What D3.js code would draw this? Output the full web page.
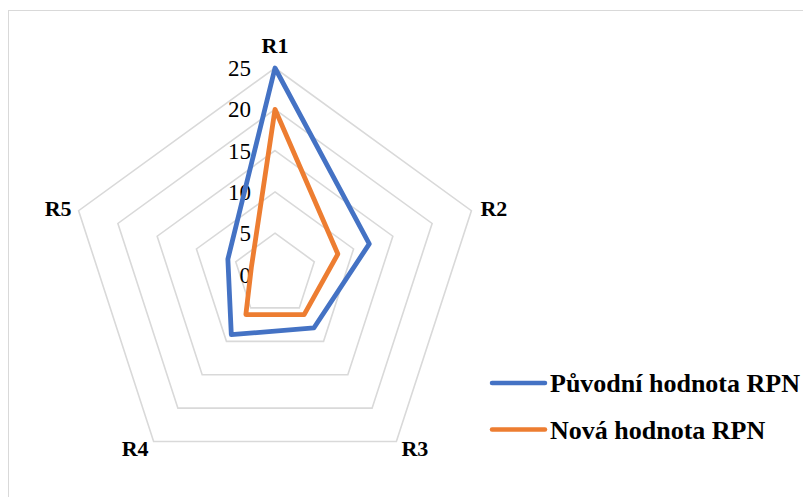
<!DOCTYPE html>
<html>
<head>
<meta charset="utf-8">
<script src="https://cdn.jsdelivr.net/npm/d3@7"></script>
<style>
  body { margin: 0; background: #fff; }
  svg { display: block; font-family: "Liberation Serif", "Times New Roman", serif; }
</style>
</head>
<body>
<svg id="chart" width="803" height="497"></svg>
<script>
// data
const categories = ['R1', 'R2', 'R3', 'R4', 'R5'];
const puvodni = [25, 12, 8, 9, 6];
const nova = [20, 8, 6, 6, 3];
const ringValues = [5, 10, 15, 20, 25];
const tickLabels = [0, 5, 10, 15, 20, 25];
const seriesNames = ['Původní hodnota RPN', 'Nová hodnota RPN'];
const seriesColors = ['#4472C4', '#ED7D31'];

const svg = d3.select('#chart');
const cx = 275, cy = 274.5;

// frame round the chart area
svg.append('rect')
  .attr('x', 8.5).attr('y', 10.5)
  .attr('width', 820).attr('height', 520)
  .attr('fill', 'none')
  .attr('stroke', '#d9d9d9')
  .attr('stroke-width', 1);

const r = d3.scaleLinear().domain([0, 25]).range([0, 206.5]);
const angle = d3.scaleLinear().domain([0, categories.length]).range([0, 2 * Math.PI]);

const g = svg.append('g').attr('transform', `translate(${cx},${cy})`);

// grid rings
const ringLine = d3.lineRadial()
  .angle((d, i) => angle(i))
  .radius(d => r(d))
  .curve(d3.curveLinearClosed);

g.selectAll('.ring')
  .data(ringValues)
  .join('path')
  .attr('class', 'ring')
  .attr('d', v => ringLine(categories.map(() => v)))
  .attr('fill', 'none')
  .attr('stroke', '#d9d9d9')
  .attr('stroke-width', 1.6);

// value ticks along R1 axis
g.selectAll('.tick')
  .data(tickLabels)
  .join('text')
  .attr('class', 'tick')
  .attr('x', -24)
  .attr('y', d => -r(d))
  .attr('dy', '0.35em')
  .attr('text-anchor', 'end')
  .attr('font-size', 23)
  .attr('fill', '#000')
  .text(d => d);

// category labels
const labelPos = i => {
  const a = angle(i);
  const rr = r(25);
  return [Math.sin(a) * rr, -Math.cos(a) * rr];
};
const labelCfg = [
  {dx: 0, dy: -23, anchor: 'middle'},
  {dx: 9, dy: -2, anchor: 'start'},
  {dx: 5, dy: 7, anchor: 'start'},
  {dx: -5, dy: 7, anchor: 'end'},
  {dx: -7, dy: -2, anchor: 'end'}
];
g.selectAll('.cat')
  .data(categories)
  .join('text')
  .attr('class', 'cat')
  .attr('x', (d, i) => labelPos(i)[0] + labelCfg[i].dx)
  .attr('y', (d, i) => labelPos(i)[1] + labelCfg[i].dy)
  .attr('dy', '0.35em')
  .attr('text-anchor', (d, i) => labelCfg[i].anchor)
  .attr('font-size', 22)
  .attr('font-weight', 'bold')
  .text(d => d);

// series
const seriesLine = d3.lineRadial()
  .angle((d, i) => angle(i))
  .radius(d => r(d))
  .curve(d3.curveLinearClosed);

g.selectAll('.series')
  .data([puvodni, nova])
  .join('path')
  .attr('class', 'series')
  .attr('d', d => seriesLine(d))
  .attr('fill', 'none')
  .attr('stroke', (d, i) => seriesColors[i])
  .attr('stroke-width', 4.8)
  .attr('stroke-linejoin', 'round');

// legend
const legend = svg.append('g').attr('transform', 'translate(492,383)');
const items = legend.selectAll('g')
  .data(seriesNames)
  .join('g')
  .attr('transform', (d, i) => `translate(0,${i * 46.5})`);
items.append('line')
  .attr('x1', 0).attr('x2', 53)
  .attr('stroke', (d, i) => seriesColors[i])
  .attr('stroke-width', 4.5)
  .attr('stroke-linecap', 'round');
items.append('text')
  .attr('x', 58)
  .attr('dy', '0.35em')
  .attr('font-size', 26)
  .attr('font-weight', 'bold')
  .text(d => d);
</script>
</body>
</html>
